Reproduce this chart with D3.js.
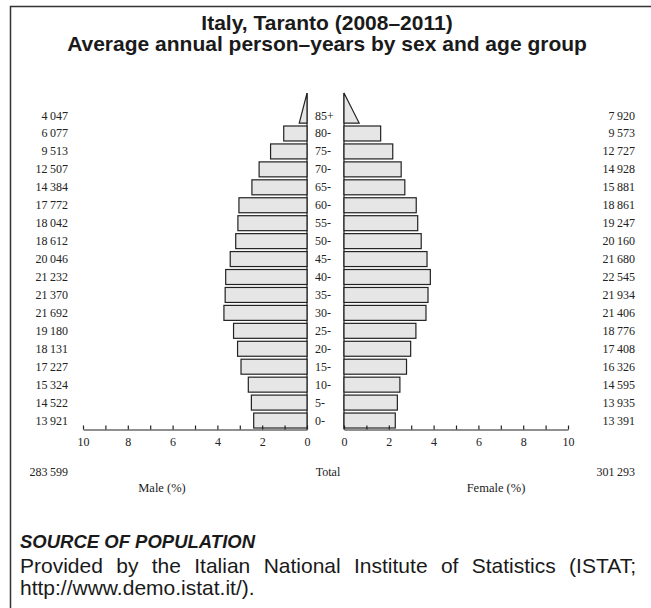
<!DOCTYPE html>
<html>
<head>
<meta charset="utf-8">
<script src="https://cdn.jsdelivr.net/npm/d3@7"></script>
<style>
  body { margin: 0; background: #fff; }
  .bar { fill: #e6e6e6; stroke: #222; stroke-width: 1.2; }
  .lbl { font-family: "Liberation Serif", "DejaVu Serif", serif; font-size: 12px; fill: #222; }
  .axis text { font-family: "Liberation Serif", serif; font-size: 12px; fill: #222; }
  .axis line, .axis path { stroke: #222; stroke-width: 1.2; }
  .sans { font-family: "Liberation Sans", Arial, sans-serif; fill: #1a1a1a; }
</style>
</head>
<body>
<div id="chart"></div>
<script>
var ages = ["0-", "5-", "10-", "15-", "20-", "25-", "30-", "35-", "40-", "45-",
            "50-", "55-", "60-", "65-", "70-", "75-", "80-", "85+"];
var maleCounts = [13921, 14522, 15324, 17227, 18131, 19180, 21692, 21370, 21232, 20046,
                  18612, 18042, 17772, 14384, 12507, 9513, 6077, 4047];
var femaleCounts = [13391, 13935, 14595, 16326, 17408, 18776, 21406, 21934, 22545, 21680,
                    20160, 19247, 18861, 15881, 14928, 12727, 9573, 7920];
var maleTotal = 283599,
    femaleTotal = 301293;
var tickValues = [0, 1, 2, 3, 4, 5, 6, 7, 8, 9, 10];

function fmt(n) {
  return d3.format(",")(n).replace(/,/g, "\u2009");
}

function renderChart(el) {
  var width = 651, height = 608;
  var total = maleTotal + femaleTotal;

  var svg = d3.select(el).append("svg")
      .attr("width", width)
      .attr("height", height);

  // frame (top and left only)
  svg.append("path")
      .attr("d", "M10.5,608V6.5H651")
      .attr("fill", "none")
      .attr("stroke", "#333")
      .attr("stroke-width", 1.5);

  // titles
  svg.append("text")
      .attr("class", "sans")
      .attr("x", 327).attr("y", 30)
      .attr("text-anchor", "middle")
      .style("font-weight", "bold")
      .style("font-size", "21px")
      .text("Italy, Taranto (2008\u20132011)");
  svg.append("text")
      .attr("class", "sans")
      .attr("x", 327).attr("y", 51)
      .attr("text-anchor", "middle")
      .style("font-weight", "bold")
      .style("font-size", "21px")
      .text("Average annual person\u2013years by sex and age group");

  // scales
  var xMale = d3.scaleLinear().domain([0, 10]).range([307, 83]);
  var xFemale = d3.scaleLinear().domain([0, 10]).range([344, 568]);
  var y = d3.scaleBand()
      .domain(ages)
      .range([429.5, 429.5 - 18 * 17.94])
      .paddingInner(0.165)
      .paddingOuter(0.0825);

  var rows = ages.map(function(a, i) {
    return {age: a, m: maleCounts[i], f: femaleCounts[i],
            mp: maleCounts[i] / total * 100, fp: femaleCounts[i] / total * 100};
  });
  var closed = rows.filter(function(d) { return d.age !== "85+"; });
  var last = rows[rows.length - 1];
  var bw = y.bandwidth();

  // centre lines
  [xMale(0), xFemale(0)].forEach(function(x0) {
    svg.append("line")
        .attr("x1", x0).attr("x2", x0)
        .attr("y1", y("85+") - bw).attr("y2", 429.5)
        .attr("stroke", "#222").attr("stroke-width", 1.2);
  });

  // male bars
  svg.selectAll(".male")
      .data(closed)
    .enter().append("rect")
      .attr("class", "bar male")
      .attr("x", function(d) { return xMale(d.mp); })
      .attr("y", function(d) { return y(d.age); })
      .attr("width", function(d) { return xMale(0) - xMale(d.mp); })
      .attr("height", bw);

  // female bars
  svg.selectAll(".female")
      .data(closed)
    .enter().append("rect")
      .attr("class", "bar female")
      .attr("x", xFemale(0))
      .attr("y", function(d) { return y(d.age); })
      .attr("width", function(d) { return xFemale(d.fp) - xFemale(0); })
      .attr("height", bw);

  // open-ended 85+ group drawn as triangles
  var yb = y("85+") + bw, yt = y("85+") - bw;
  svg.append("path")
      .attr("class", "bar")
      .attr("d", "M" + xMale(0) + "," + yt + "L" + xMale(last.mp / 2) + "," + yb +
                 "H" + xMale(0) + "Z");
  svg.append("path")
      .attr("class", "bar")
      .attr("d", "M" + xFemale(0) + "," + yt + "L" + xFemale(last.fp / 2) + "," + yb +
                 "H" + xFemale(0) + "Z");

  // age labels
  svg.selectAll(".age")
      .data(rows)
    .enter().append("text")
      .attr("class", "lbl age")
      .attr("x", 315)
      .attr("y", function(d) { return y(d.age) + bw / 2 + 4; })
      .text(function(d) { return d.age; });

  // count labels
  svg.selectAll(".mcount")
      .data(rows)
    .enter().append("text")
      .attr("class", "lbl mcount")
      .attr("x", 68)
      .attr("text-anchor", "end")
      .attr("y", function(d) { return y(d.age) + bw / 2 + 4; })
      .text(function(d) { return fmt(d.m); });
  svg.selectAll(".fcount")
      .data(rows)
    .enter().append("text")
      .attr("class", "lbl fcount")
      .attr("x", 635)
      .attr("text-anchor", "end")
      .attr("y", function(d) { return y(d.age) + bw / 2 + 4; })
      .text(function(d) { return fmt(d.f); });

  // axes
  var tf = function(d) { return d % 2 ? "" : d; };
  svg.append("g")
      .attr("class", "axis")
      .attr("transform", "translate(0,429.5)")
      .call(d3.axisBottom(xMale).tickValues(tickValues).tickFormat(tf)
              .tickSize(-4).tickSizeOuter(0).tickPadding(8));
  svg.append("g")
      .attr("class", "axis")
      .attr("transform", "translate(0,429.5)")
      .call(d3.axisBottom(xFemale).tickValues(tickValues).tickFormat(tf)
              .tickSize(-4).tickSizeOuter(0).tickPadding(8));

  // totals
  svg.append("text").attr("class", "lbl")
      .attr("x", 68).attr("y", 476).attr("text-anchor", "end")
      .text(fmt(maleTotal));
  svg.append("text").attr("class", "lbl")
      .attr("x", 328).attr("y", 476).attr("text-anchor", "middle")
      .text("Total");
  svg.append("text").attr("class", "lbl")
      .attr("x", 635).attr("y", 476).attr("text-anchor", "end")
      .text(fmt(femaleTotal));
  svg.append("text").attr("class", "lbl")
      .attr("x", 162).attr("y", 492).attr("text-anchor", "middle")
      .style("font-size", "12.5px")
      .text("Male (%)");
  svg.append("text").attr("class", "lbl")
      .attr("x", 496).attr("y", 492).attr("text-anchor", "middle")
      .style("font-size", "12.5px")
      .text("Female (%)");

  // source note
  svg.append("text")
      .attr("class", "sans")
      .attr("x", 20).attr("y", 548)
      .style("font-weight", "bold")
      .style("font-style", "italic")
      .style("font-size", "18.5px")
      .text("SOURCE OF POPULATION");
  var line1 = svg.append("text")
      .attr("class", "sans")
      .attr("x", 20).attr("y", 573)
      .style("font-size", "21px")
      .text("Provided by the Italian National Institute of Statistics (ISTAT;");
  // justify the first line by adjusting the word gaps
  var natural = line1.node().getComputedTextLength();
  var gaps = line1.text().split(" ").length - 1;
  line1.style("word-spacing", ((616 - natural) / gaps) + "px");
  svg.append("text")
      .attr("class", "sans")
      .attr("x", 20).attr("y", 595)
      .style("font-size", "21px")
      .text("http://www.demo.istat.it/).");
}

renderChart("#chart");
</script>
</body>
</html>
